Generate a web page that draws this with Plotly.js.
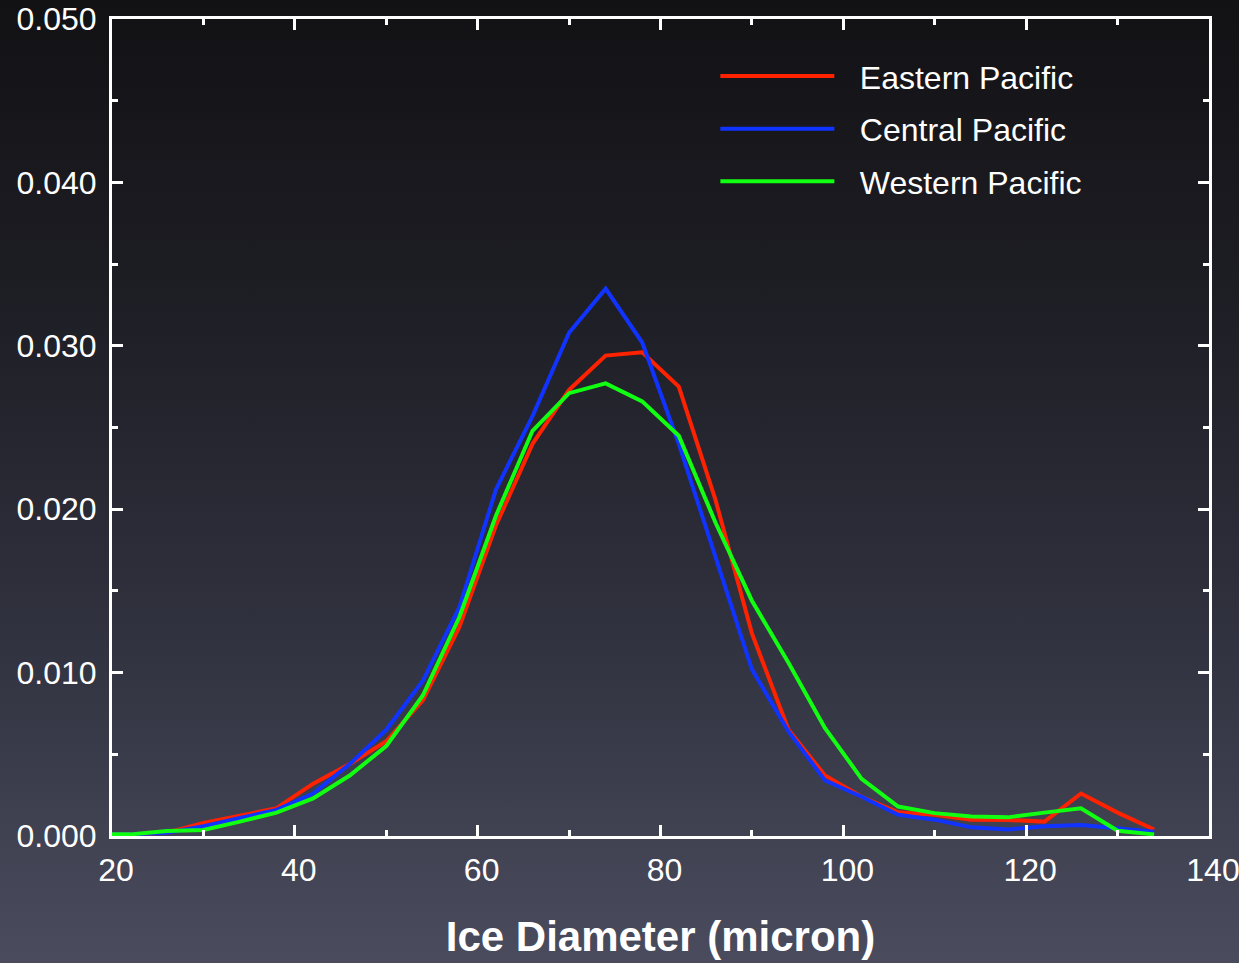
<!DOCTYPE html>
<html>
<head>
<meta charset="utf-8">
<script src="https://cdn.plot.ly/plotly-3.0.1.min.js"></script>
<style>
  html, body { margin: 0; padding: 0; width: 1239px; height: 963px; overflow: hidden;
    background: linear-gradient(to bottom, #121215 0%, #1d1d24 30%, #2d2e3a 60%, #4a4b5d 100%); }
  #chart { width: 1239px; height: 963px; }
</style>
</head>
<body>
<div id="chart"></div>
<script>
// Ice diameter bins (micron)
const diameter = [18, 22, 26, 30, 34, 38, 42, 46, 50, 54, 58, 62, 66, 70, 74, 78, 82, 86, 90, 94, 98, 102, 106, 110, 114, 118, 122, 126, 130, 134];

const easternPacific = [0.0001, 0.0001, 0.0002, 0.0008, 0.00124, 0.0017, 0.0032, 0.0044, 0.0058, 0.0083, 0.0128, 0.0190, 0.0240, 0.0273, 0.0294, 0.0296, 0.0275, 0.0206, 0.0124, 0.0065, 0.0037, 0.0024, 0.00145, 0.0013, 0.0010, 0.00098, 0.00088, 0.0026, 0.00143, 0.0004];
const centralPacific = [0.0001, 0.0001, 0.0002, 0.0006, 0.0011, 0.0016, 0.0026, 0.0044, 0.0065, 0.0095, 0.0140, 0.0212, 0.0257, 0.0308, 0.0335, 0.0302, 0.0240, 0.0170, 0.0102, 0.0064, 0.0034, 0.0024, 0.0013, 0.0010, 0.00053, 0.0004, 0.0006, 0.00067, 0.00047, 0.00026];
const westernPacific = [0.0001, 0.0001, 0.0003, 0.00037, 0.00088, 0.00143, 0.0023, 0.0037, 0.0055, 0.0086, 0.0134, 0.0196, 0.0248, 0.0271, 0.0277, 0.0266, 0.0245, 0.0192, 0.0144, 0.0106, 0.0066, 0.0035, 0.0018, 0.0014, 0.0012, 0.00114, 0.00143, 0.0017, 0.00032, 0.0001];

const seriesNames = ["Eastern Pacific", "Central Pacific", "Western Pacific"];
const seriesColors = ["#ff2200", "#1133ff", "#11ff11"];
const seriesValues = [easternPacific, centralPacific, westernPacific];

const xTickVals = [20, 40, 60, 80, 100, 120, 140];
const yTickVals = [0, 0.01, 0.02, 0.03, 0.04, 0.05];

const traces = seriesNames.map((name, i) => ({
  type: "scatter",
  mode: "lines",
  x: diameter,
  y: seriesValues[i],
  name: "\u00a0\u00a0\u200a" + name,
  legendgroup: "g" + i,
  line: { color: seriesColors[i], width: 4 }
}));

const fontFamily = "'Liberation Sans', Arial, Helvetica, sans-serif";

const axisCommon = {
  showgrid: false,
  zeroline: false,
  showline: true,
  linecolor: "#ffffff",
  linewidth: 3,
  mirror: "allticks",
  ticks: "inside",
  tickcolor: "#ffffff",
  tickwidth: 3,
  ticklen: 11,
  tickfont: { family: fontFamily, size: 32, color: "#ffffff" }
};

const layout = {
  width: 1239,
  height: 963,
  paper_bgcolor: "rgba(0,0,0,0)",
  plot_bgcolor: "rgba(0,0,0,0)",
  margin: { l: 112, r: 30, t: 19, b: 127 },
  showlegend: true,
  legend: {
    x: 0.55, xanchor: "left",
    y: 0.9636, yanchor: "top",
    bgcolor: "rgba(0,0,0,0)",
    font: { family: fontFamily, size: 32, color: "#ffffff" },
    itemwidth: 114,
    tracegroupgap: 8,
    traceorder: "grouped"
  },
  xaxis: Object.assign({}, axisCommon, {
    range: [20, 140],
    tickmode: "array",
    tickvals: xTickVals,
    ticktext: xTickVals.map(String),
    ticklabelstandoff: 4,
    ticklabelshift: 4,
    ticklabeloverflow: "allow",
    minor: { dtick: 10, tick0: 0, ticks: "inside", ticklen: 6, tickwidth: 3, tickcolor: "#ffffff" },
    title: { text: "Ice Diameter (micron)", standoff: 35,
      font: { family: fontFamily, size: 42, color: "#ffffff", weight: "bold" } }
  }),
  yaxis: Object.assign({}, axisCommon, {
    range: [0, 0.05],
    tickmode: "array",
    tickvals: yTickVals,
    ticktext: yTickVals.map(v => v.toFixed(3)),
    ticklabelstandoff: 6,
    minor: { dtick: 0.005, tick0: 0, ticks: "inside", ticklen: 6, tickwidth: 3, tickcolor: "#ffffff" }
  })
};

Plotly.newPlot("chart", traces, layout, { displayModeBar: false, staticPlot: true });
</script>
</body>
</html>
